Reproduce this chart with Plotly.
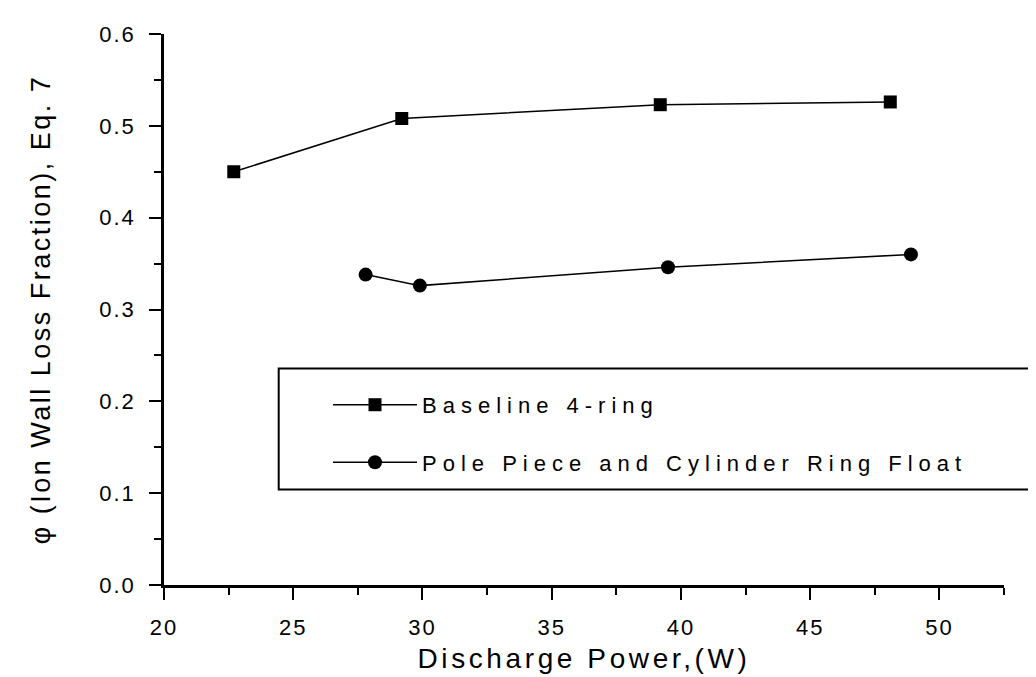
import plotly.graph_objects as go

# Data
baseline_x = [22.7, 29.2, 39.2, 48.1]
baseline_y = [0.450, 0.508, 0.523, 0.526]
pole_x = [27.8, 29.9, 39.5, 48.9]
pole_y = [0.338, 0.326, 0.346, 0.360]

series_names = ["Baseline 4-ring", "Pole Piece and Cylinder Ring Float"]
x_ticks = [20, 25, 30, 35, 40, 45, 50]
y_ticks = [0.0, 0.1, 0.2, 0.3, 0.4, 0.5, 0.6]
y_tick_labels = ["0.0", "0.1", "0.2", "0.3", "0.4", "0.5", "0.6"]

FONT = "Liberation Sans, Arial, sans-serif"

fig = go.Figure()
fig.add_trace(go.Scatter(
    x=baseline_x, y=baseline_y, mode="lines+markers", name=series_names[0],
    legendgroup="a",
    line=dict(color="black", width=1.5),
    marker=dict(symbol="square", size=13, color="black"),
))
fig.add_trace(go.Scatter(
    x=pole_x, y=pole_y, mode="lines+markers", name=series_names[1],
    legendgroup="b",
    line=dict(color="black", width=1.5),
    marker=dict(symbol="circle", size=14, color="black"),
))

axis_common = dict(
    showline=True, linecolor="black", linewidth=2.5, mirror=False,
    showgrid=False, zeroline=False, ticks="outside", ticklen=12, tickwidth=2,
    tickcolor="black", tickfont=dict(family=FONT, size=22, color="black"),
    ticklabelstandoff=9, automargin=False,
)

fig.update_xaxes(
    range=[20, 52.5], tickvals=x_ticks,
    minor=dict(dtick=2.5, ticks="outside", ticklen=7, tickwidth=2, tickcolor="black", tick0=20),
    title=dict(text="Discharge Power,(W)", font=dict(family=FONT, size=28, color="black"), standoff=10),
    **axis_common,
)
fig.update_yaxes(
    range=[0, 0.6], tickvals=y_ticks, ticktext=y_tick_labels,
    minor=dict(dtick=0.05, ticks="outside", ticklen=7, tickwidth=2, tickcolor="black", tick0=0),
    title=dict(text="φ (Ion Wall Loss Fraction), Eq. 7", font=dict(family=FONT, size=27, color="black"), standoff=47),
    **axis_common,
)

# legend frame (extends past the right edge as in the reference)
fig.add_shape(type="rect", xref="paper", yref="paper",
              x0=(270.7 - 156) / 840, x1=1.2, y0=(577.3 - 481.7) / 551.6, y1=(577.3 - 360.5) / 551.6,
              line=dict(color="black", width=2), fillcolor="rgba(0,0,0,0)", layer="below")

fig.update_layout(
    width=1036, height=677,
    margin=dict(l=156, r=40, t=26, b=100, autoexpand=False),
    paper_bgcolor="white", plot_bgcolor="white",
    showlegend=True,
    legend=dict(
        x=(320 - 156) / 840, y=(577.3 - 376) / 551.6, xanchor="left", yanchor="top",
        bgcolor="rgba(0,0,0,0)", borderwidth=0,
        font=dict(family=FONT, size=22, color="black"),
        itemwidth=84, tracegroupgap=26,
    ),
    font=dict(family=FONT, color="black"),
)

# wide letter tracking as in the scanned original
post = """
var gd = document.getElementById('{plot_id}');
function track(){
  gd.querySelectorAll('text.legendtext').forEach(function(t){t.style.letterSpacing='6px';});
  gd.querySelectorAll('g.legend, g.legend g.scrollbox').forEach(function(g){g.removeAttribute('clip-path');});
  gd.querySelectorAll('text.xtitle').forEach(function(t){t.style.letterSpacing='3.6px';});
  gd.querySelectorAll('text.ytitle').forEach(function(t){t.style.letterSpacing='2.5px';});
  gd.querySelectorAll('g.xtick text, g.ytick text').forEach(function(t){t.style.letterSpacing='2px';});
}
track();
gd.on('plotly_afterplot', track);
"""

fig.write_html("out.html", post_script=post)
